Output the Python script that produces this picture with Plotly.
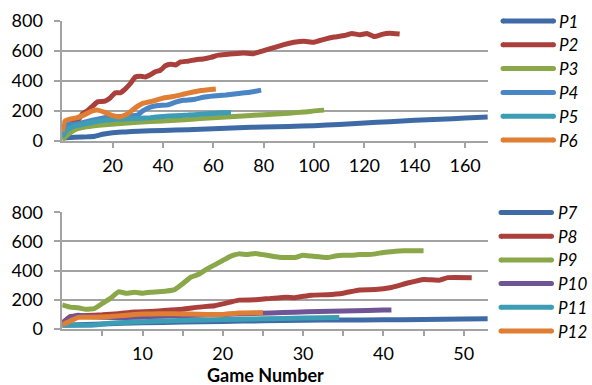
import plotly.graph_objects as go

# ---------------- data ----------------
top_names = ["P1", "P2", "P3", "P4", "P5", "P6"]
bottom_names = ["P7", "P8", "P9", "P10", "P11", "P12"]

p1_games = [0, 5, 10, 13, 16, 20, 25, 30, 40, 50, 60, 70, 80, 90, 100, 110, 120, 130, 140, 150, 160, 169]
p1_score = [20, 25, 28, 32, 45, 55, 60, 65, 70, 75, 82, 88, 93, 97, 102, 110, 120, 128, 137, 145, 152, 160]

p2_games = [0, 3, 6, 8, 10, 12, 14, 17, 19, 21, 23, 25, 27, 29, 31, 33, 35, 37, 39, 41, 43, 45, 47, 50,
            53, 56, 59, 62, 65, 68, 72, 76, 80, 84, 88, 92, 96, 100, 104, 108, 112, 115, 118, 121, 124, 127, 130, 134]
p2_score = [90, 120, 130, 180, 200, 230, 260, 265, 285, 320, 320, 345, 380, 425, 430, 425, 440, 460, 470, 500, 510, 505, 525, 530,
            540, 545, 555, 570, 575, 580, 585, 580, 600, 620, 640, 655, 662, 655, 675, 690, 700, 714, 705, 714, 693, 708, 715, 710]

p3_games = [0, 2, 5, 8, 12, 17, 22, 30, 40, 50, 60, 70, 80, 90, 96, 100, 104]
p3_score = [10, 40, 75, 90, 100, 108, 115, 125, 133, 142, 155, 165, 175, 185, 192, 200, 205]

p4_games = [0, 2, 4, 7, 10, 14, 18, 22, 26, 30, 32, 35, 38, 42, 45, 48, 52, 56, 60, 65, 70, 75, 79]
p4_score = [40, 120, 110, 118, 130, 145, 158, 162, 165, 172, 200, 225, 235, 240, 258, 270, 275, 290, 298, 305, 315, 325, 338]

p5_games = [0, 2, 5, 8, 12, 17, 22, 30, 35, 40, 45, 50, 55, 60, 64, 67]
p5_score = [30, 75, 100, 110, 125, 138, 145, 150, 155, 163, 168, 172, 178, 183, 188, 188]

p6_games = [0, 1, 3, 6, 9, 12, 14, 17, 20, 23, 26, 29, 32, 36, 40, 44, 48, 52, 55, 58, 61]
p6_score = [60, 130, 145, 155, 175, 200, 205, 190, 168, 160, 180, 220, 250, 265, 285, 295, 310, 325, 335, 340, 345]

p7_games = [0, 5, 10, 15, 20, 25, 30, 35, 40, 45, 50, 53]
p7_score = [25, 35, 42, 48, 52, 56, 60, 62, 63, 65, 68, 70]

p8_games = [0, 1, 3, 5, 7, 9, 11, 13, 15, 17, 19, 21, 22, 24, 26, 28, 29, 31, 33, 35, 37, 39, 41, 43, 45, 47, 48, 51]
p8_score = [40, 85, 92, 97, 105, 117, 120, 128, 135, 150, 160, 185, 198, 200, 210, 218, 215, 232, 235, 245, 268, 270, 285, 315, 340, 335, 352, 352]

p9_games = list(range(0, 46))
p9_score = [165, 150, 145, 135, 140, 175, 210, 255, 245, 252, 245, 252, 255, 260, 270, 310, 355, 375, 410, 440, 470, 500, 515,
            510, 518, 510, 500, 492, 490, 490, 505, 500, 495, 490, 500, 505, 505, 510, 510, 515, 525, 530, 535, 537, 537, 537]

p10_games = [0, 1, 2, 3, 5, 8, 11, 14, 17, 20, 23, 26, 29, 32, 35, 38, 40, 41]
p10_score = [40, 80, 95, 88, 80, 78, 85, 90, 95, 100, 105, 110, 115, 120, 124, 127, 130, 131]

p11_games = [0, 2, 4, 6, 8, 10, 13, 16, 20, 25, 30, 34.5]
p11_score = [28, 25, 28, 40, 45, 50, 55, 60, 65, 70, 75, 78]

p12_games = [0, 1, 2, 4, 6, 8, 10, 12, 14, 16, 18, 20, 22, 24, 25]
p12_score = [30, 55, 80, 80, 85, 95, 102, 105, 105, 102, 100, 100, 110, 112, 112]

top_x_ticks = [20, 40, 60, 80, 100, 120, 140, 160]
bottom_x_ticks = [5, 10, 15, 20, 25, 30, 35, 40, 45, 50]
bottom_x_labels = ["", "10", "", "20", "", "30", "", "40", "", "50"]
y_ticks = [0, 200, 400, 600, 800]
x_title = "Game Number"

# ---------------- styling ----------------
W, H = 592, 385
C_DBLUE = "#3E6BA6"
C_RED = "#AA403C"
C_GREEN = "#8AA84A"
C_LBLUE = "#4A86C5"
C_TEAL = "#3C9DB4"
C_ORANGE = "#E07F33"
C_PURPLE = "#6F5596"
top_colors = [C_DBLUE, C_RED, C_GREEN, C_LBLUE, C_TEAL, C_ORANGE]
bottom_colors = [C_DBLUE, C_RED, C_GREEN, C_PURPLE, C_TEAL, C_ORANGE]
GRID = "#a3a3a3"
FONT = "Lato, 'Open Sans', sans-serif"
LW = 5

top_series = [(p1_games, p1_score), (p2_games, p2_score), (p3_games, p3_score),
              (p4_games, p4_score), (p5_games, p5_score), (p6_games, p6_score)]
bottom_series = [(p7_games, p7_score), (p8_games, p8_score), (p9_games, p9_score),
                 (p10_games, p10_score), (p11_games, p11_score), (p12_games, p12_score)]

fig = go.Figure()
for name, (gx, gy), col in zip(top_names, top_series, top_colors):
    fig.add_trace(go.Scatter(x=gx, y=gy, name=name, mode="lines", xaxis="x", yaxis="y",
                             line=dict(color=col, width=LW, shape="spline", smoothing=0.3), showlegend=False))
for name, (gx, gy), col in zip(bottom_names, bottom_series, bottom_colors):
    fig.add_trace(go.Scatter(x=gx, y=gy, name=name, mode="lines", xaxis="x2", yaxis="y2",
                             line=dict(color=col, width=LW, shape="spline", smoothing=0.3), showlegend=False))

def px2x(px):
    return px / W

def px2y(py):
    return (H - py) / H

xdom = [px2x(62.2), px2x(487.8)]
ydom_top = [px2y(141), px2y(20.5)]
ydom_bot = [px2y(329), px2y(212.3)]

tickfont = dict(family=FONT, size=18, color="#000000")
common_y = dict(range=[0, 800], tickvals=y_ticks, showgrid=True, gridcolor=GRID, gridwidth=1.5,
                zeroline=False, showline=True, linecolor=GRID, linewidth=1.5,
                ticks="outside", ticklen=6, tickcolor=GRID, tickwidth=1.5,
                tickfont=tickfont, ticklabelstandoff=8, automargin=False, fixedrange=True)

fig.update_layout(
    width=W, height=H,
    margin=dict(l=0, r=0, t=0, b=0),
    paper_bgcolor="white", plot_bgcolor="white",
    xaxis=dict(domain=xdom, anchor="y", range=[0, 169], tickvals=top_x_ticks,
               showgrid=False, zeroline=False, showline=True, linecolor=GRID, linewidth=1.5,
               ticks="outside", ticklen=5, tickcolor=GRID, tickwidth=1.5,
               tickfont=tickfont, ticklabelstandoff=3, automargin=False, fixedrange=True),
    yaxis=dict(domain=ydom_top, anchor="x", **common_y),
    xaxis2=dict(domain=xdom, anchor="y2", range=[0, 53], tickvals=bottom_x_ticks, ticktext=bottom_x_labels,
                showgrid=False, zeroline=False, showline=True, linecolor=GRID, linewidth=1.5,
                ticks="outside", ticklen=5, tickcolor=GRID, tickwidth=1.5,
                tickfont=tickfont, ticklabelstandoff=3, automargin=False, fixedrange=True),
    yaxis2=dict(domain=ydom_bot, anchor="x2", **common_y),
    showlegend=False,
)

# axis title
fig.add_annotation(x=px2x(265), y=px2y(375), xref="paper", yref="paper", text="<b>" + x_title + "</b>",
                   showarrow=False, font=dict(family=FONT, size=18, color="#000000"),
                   xanchor="center", yanchor="middle")

# manual legends (long rounded line samples like the original)
def add_legend(names, colors, x0, x1, tx, y_first, step):
    r = LW / 2
    for i, (nm, col) in enumerate(zip(names, colors)):
        yy = y_first + i * step
        fig.add_shape(type="line", xref="paper", yref="paper",
                      x0=px2x(x0 + r), x1=px2x(x1 - r), y0=px2y(yy), y1=px2y(yy),
                      line=dict(color=col, width=LW))
        for cx in (x0 + r, x1 - r):
            fig.add_shape(type="circle", xref="paper", yref="paper",
                          x0=px2x(cx - r), x1=px2x(cx + r), y0=px2y(yy + r), y1=px2y(yy - r),
                          fillcolor=col, line=dict(width=0))
        fig.add_annotation(x=px2x(tx), y=px2y(yy), xref="paper", yref="paper", text="<i>" + nm + "</i>",
                           showarrow=False, xanchor="left", yanchor="middle",
                           font=dict(family=FONT, size=17, color="#000000"))

add_legend(top_names, top_colors, 500.5, 556, 557, 21, 23.8)
add_legend(bottom_names, bottom_colors, 498.5, 554, 556, 212.5, 23.7)

fig.write_html("out.html", config={"displayModeBar": False},
               post_script="document.body.style.margin='0';document.body.style.overflow='hidden';")
